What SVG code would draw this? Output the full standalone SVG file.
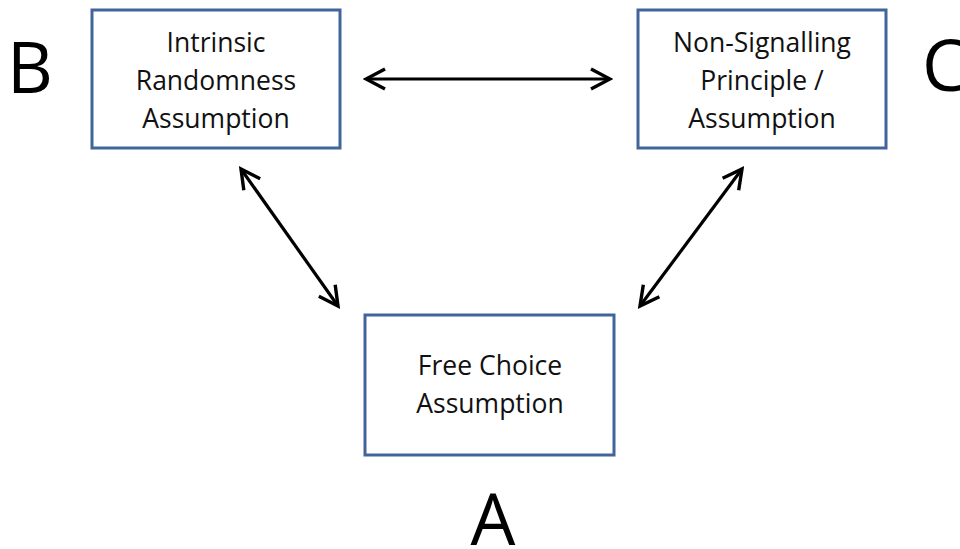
<svg xmlns="http://www.w3.org/2000/svg" width="960" height="549" viewBox="0 0 960 549">
<defs>
<style>
.box{fill:#fff;stroke:#41659a;stroke-width:3}
.t{font-family:"Open Sans","Liberation Sans",sans-serif;font-size:26.5px;fill:#111;text-anchor:middle}
.big{font-family:"Open Sans","Liberation Sans",sans-serif;font-size:71px;fill:#000}
.c{stroke:#000;stroke-width:3.2;fill:none}
</style>
<marker id="ah" viewBox="0 0 24 24" refX="21" refY="12" markerWidth="24" markerHeight="24" markerUnits="userSpaceOnUse" orient="auto-start-reverse">
<path d="M2,2 L21,12 L2,22" fill="none" stroke="#000" stroke-width="3.4" stroke-linejoin="miter"/>
</marker>
</defs>
<rect width="960" height="549" fill="#fff"/>
<g id="nodeB">
<rect class="box" x="92" y="10" width="248" height="138"/>
<text class="t" x="216" y="52">Intrinsic</text>
<text class="t" x="216" y="90">Randomness</text>
<text class="t" x="216" y="128">Assumption</text>
</g>
<g id="nodeC">
<rect class="box" x="638" y="10" width="248" height="138"/>
<text class="t" x="762" y="52">Non-Signalling</text>
<text class="t" x="762" y="90">Principle /</text>
<text class="t" x="762" y="128">Assumption</text>
</g>
<g id="nodeA">
<rect class="box" x="365" y="315" width="249" height="140"/>
<text class="t" x="490" y="375">Free Choice</text>
<text class="t" x="490" y="413">Assumption</text>
</g>
<g id="labels">
<text class="big" x="30" y="93" text-anchor="middle">B</text>
<text class="big" x="922" y="91">C</text>
<text class="big" x="493" y="545" text-anchor="middle">A</text>
</g>
<g id="connectors">
<line class="c" x1="366" y1="79" x2="610" y2="79" marker-start="url(#ah)" marker-end="url(#ah)"/>
<line class="c" x1="241" y1="169" x2="338" y2="306" marker-start="url(#ah)" marker-end="url(#ah)"/>
<line class="c" x1="742" y1="169" x2="640" y2="306" marker-start="url(#ah)" marker-end="url(#ah)"/>
</g>
</svg>
